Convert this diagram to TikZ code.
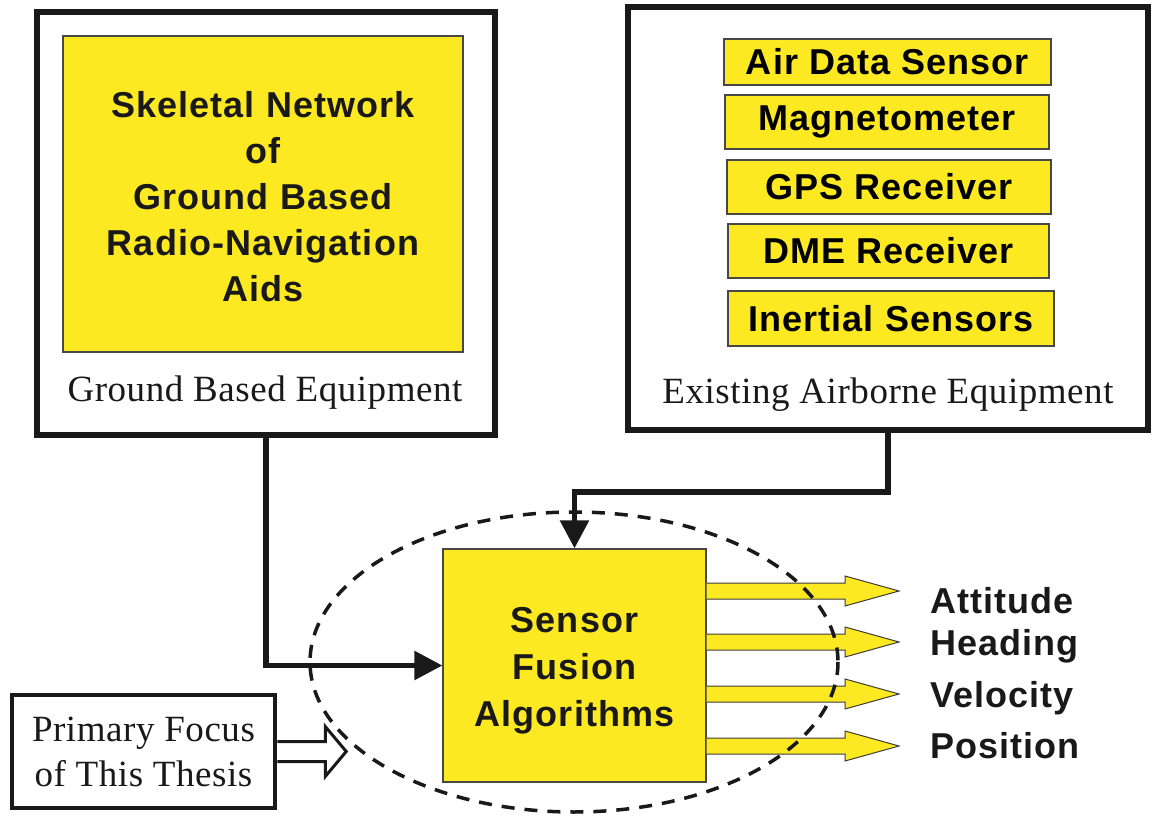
\documentclass[tikz,border=0pt]{standalone}
\usepackage{fontspec}
\setmainfont[LetterSpace=1.5]{Liberation Serif}
\newfontfamily\bsans[LetterSpace=3]{Liberation Sans}
\usetikzlibrary{arrows.meta,calc}
\definecolor{yel}{RGB}{253,233,34}
\definecolor{ink}{RGB}{25,25,25}
\begin{document}
\begin{tikzpicture}[x=1pt,y=-1pt,
  outerbox/.style={draw=ink, line width=6pt, fill=white, inner sep=0},
  ybox/.style={draw=ink!80, line width=1.2pt, fill=yel, inner sep=0},
  sbox/.style={ybox, line width=1.5pt, font=\bsans\bfseries\fontsize{36}{46}\selectfont},
  ytext/.style={inner sep=0, align=center, text=ink},
  bigsans/.style={font=\bsans\bfseries\fontsize{36}{46}\selectfont},
  fusfont/.style={font=\bsans\bfseries\fontsize{36}{47}\selectfont},
  conn/.style={line width=5.5pt, draw=ink, -{Triangle[length=28pt,width=28pt]}},
  serif/.style={font=\fontsize{37}{45}\selectfont, inner sep=0, text=ink},
  outlabel/.style={font=\bsans\bfseries\fontsize{36}{40}\selectfont, anchor=base west, inner sep=0, text=ink},
  yarrow/.style={fill=yel, draw=ink!85, line width=1pt, line join=miter},
  focus/.style={draw=ink, line width=3.5pt, dash pattern=on 13pt off 10pt},
  hollow/.style={draw=ink, line width=3pt, fill=white, line join=miter}
  ]
\useasboundingbox (0,0) rectangle (1152,818);
\fill[white] (0,0) rectangle (1152,818);

% Ground based equipment
\node[outerbox, minimum width=458, minimum height=423] (gbe) at (266,223.5) {};
\node[ybox, minimum width=400, minimum height=316] (skel) at (263,194) {};
\node[ytext, bigsans, anchor=north] (skeltxt) at (263,91) {Skeletal Network\\of\\Ground Based\\Radio-Navigation\\Aids};
\node[serif, anchor=base] (gbelab) at (265,402) {Ground Based Equipment};

% Existing airborne equipment
\node[outerbox, minimum width=520, minimum height=423] (aeq) at (888,218.5) {};
\node[sbox, minimum width=327, minimum height=46] (sA) at (887.5,62) {Air Data Sensor};
\node[sbox, minimum width=324, minimum height=54] (sB) at (887,122) {Magnetometer};
\node[sbox, minimum width=324, minimum height=54] (sC) at (889,187) {GPS Receiver};
\node[sbox, minimum width=321, minimum height=54] (sD) at (888.5,251) {DME Receiver};
\node[sbox, minimum width=326, minimum height=55] (sE) at (891,318.5) {Inertial Sensors};
\node[serif, anchor=base] (aeqlab) at (888,404) {Existing Airborne Equipment};

% Sensor fusion
\node[ybox, minimum width=263, minimum height=233] (fus) at (574.5,665.5) {};
\node[ytext, fusfont, anchor=north] (fustxt) at (574.5,607) {Sensor\\Fusion\\Algorithms};

% Connectors
\draw[conn] (gbe.south) |- (fus.west);
\draw[conn] (aeq.south) -- ++(0,59) -| (fus.north);

% Output arrows
\foreach \yy/\nm in {591/o1,642/o2,694/o3,746/o4}{
  \coordinate (\nm) at (899,\yy);
  \filldraw[yarrow] (fus.east |- 0,\yy) ++(0,-8) -- (845,\yy-8) -- (845,\yy-15) -- (\nm) -- (845,\yy+15) -- (845,\yy+8) -- (fus.east |- 0,\yy+8);
}
\node[outlabel] (att) at (930,613) {Attitude};
\node[outlabel] (hdg) at (930,655) {Heading};
\node[outlabel] (vel) at (930,707) {Velocity};
\node[outlabel] (pos) at (930,758) {Position};

% Primary focus
\node[draw=ink, line width=4.5pt, fill=white, minimum width=263, minimum height=113, inner sep=0, align=center, font=\fontsize{37}{45}\selectfont, text=ink] (pf) at (143.5,751.5) {Primary Focus\\of This Thesis};
\draw[hollow] ($(pf.east)+(0,-10)$) -- ++(48,0) -- ++(0,-15) -- ++(21,25) -- ++(-21,25) -- ++(0,-15) -- ++(-48,0);

% Dashed focus ellipse
\draw[focus] (574,662) ellipse [x radius=264, y radius=150];
\end{tikzpicture}
\end{document}
